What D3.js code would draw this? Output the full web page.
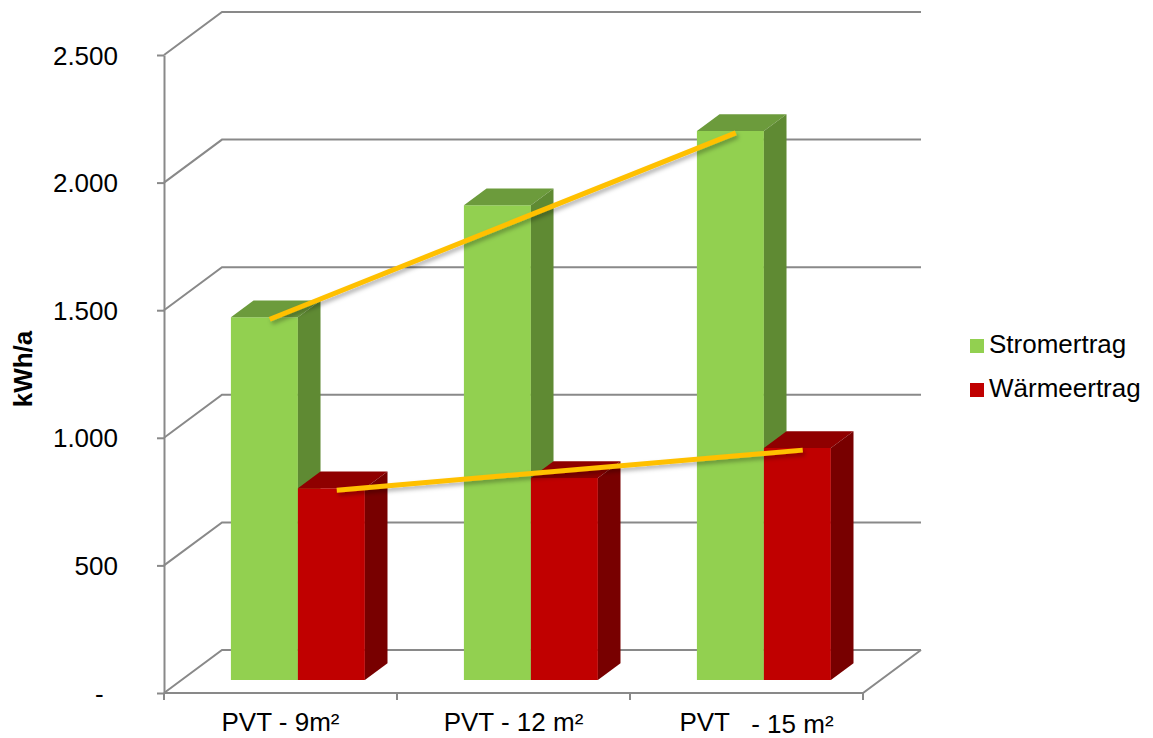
<!DOCTYPE html>
<html>
<head>
<meta charset="utf-8">
<script src="https://cdn.jsdelivr.net/npm/d3@7/dist/d3.min.js"></script>
<style>
  html, body { margin: 0; padding: 0; background: #ffffff; }
  svg { display: block; font-family: "Liberation Sans", Arial, sans-serif; }
</style>
</head>
<body>
<svg id="chart" width="1153" height="738"></svg>
<script>
// Jahreserträge der PVT-Anlage je Kollektorfläche
const categories = ["PVT - 9m²", "PVT - 12 m²", "PVT   - 15 m²"];
const seriesNames = ["Stromertrag", "Wärmeertrag"];
const stromertrag = [1422, 1861, 2152];
const waermeertrag = [752, 792, 909];
const yTickValues = [0, 500, 1000, 1500, 2000, 2500];
const axisTitle = "kWh/a";

const seriesValues = [stromertrag, waermeertrag];
const colors = {
  "Stromertrag": { front: "#92D050", top: "#6C9B3C", side: "#5F8A33" },
  "Wärmeertrag": { front: "#C00000", top: "#8F0000", side: "#780000" }
};
const gridColor = "#898989";
const trendColor = "#FFC000";

// Plot frame (front plane) and oblique depth offset
const plot = { left: 164, right: 863, top: 55, bottom: 693 };
const depth = { dx: 58, dy: -43 };
const barDepth = [0.30, 0.69];

const svg = d3.select("#chart");

const y = d3.scaleLinear().domain([0, 2500]).range([plot.bottom, plot.top]);
const x0 = d3.scaleBand().domain(categories).range([plot.left, plot.right])
  .paddingInner(0.425).paddingOuter(0.2125);
const x1 = d3.scaleBand().domain(seriesNames).range([0, x0.bandwidth()]);

// project a point (x on the front plane, value, depth fraction)
const proj = (x, v, d) => [x + d * depth.dx, y(v) + d * depth.dy];
const poly = pts => "M" + pts.map(p => p.join(",")).join("L") + "Z";

const de = d3.formatLocale({ decimal: ",", thousands: ".", grouping: [3], currency: ["", "€"] });
const fmtNum = de.format(",.0f");
const fmt = v => v === 0 ? "-\u00a0\u00a0" : fmtNum(v);

// Drop shadow for the trend lines
const defs = svg.append("defs");
const f = defs.append("filter").attr("id", "lineShadow")
  .attr("x", "-10%").attr("y", "-50%").attr("width", "120%").attr("height", "200%");
f.append("feDropShadow").attr("dx", 2).attr("dy", 3).attr("stdDeviation", 2)
  .attr("flood-color", "#000").attr("flood-opacity", 0.3);

// Walls: side-wall diagonals and back-wall gridlines
const walls = svg.append("g").attr("fill", "none").attr("stroke", gridColor).attr("stroke-width", 2);
yTickValues.forEach(v => {
  const a = proj(plot.left, v, 0), b = proj(plot.left, v, 1), c = proj(plot.right, v, 1);
  walls.append("path").attr("d", `M${a}L${b}L${c}`);
});
// Floor front edge and right edge
{
  const a = proj(plot.left, 0, 0), b = proj(plot.right, 0, 0), c = proj(plot.right, 0, 1);
  walls.append("path").attr("d", `M${a}L${b}L${c}`);
}

// Y axis
const yAxis = d3.axisLeft(y).tickValues(yTickValues).tickFormat(fmt)
  .tickSize(7).tickSizeOuter(0).tickPadding(39);
const gy = svg.append("g").attr("transform", `translate(${plot.left},0)`).call(yAxis);
gy.select(".domain").attr("stroke", gridColor).attr("stroke-width", 2);
gy.selectAll(".tick line").attr("stroke", gridColor).attr("stroke-width", 2);
gy.selectAll(".tick text").attr("font-size", 26).attr("fill", "#000")
  .attr("font-family", "Liberation Sans, Arial, sans-serif").attr("dy", "0.35em");

// Category ticks on the floor front edge
const boundaries = d3.range(categories.length + 1).map(i => plot.left + i * x0.step());
svg.append("g").selectAll("line").data(boundaries).join("line")
  .attr("x1", d => d).attr("x2", d => d)
  .attr("y1", plot.bottom).attr("y2", plot.bottom + 7)
  .attr("stroke", gridColor).attr("stroke-width", 2);

// Category labels
const catLabels = svg.append("g").attr("font-size", 26).attr("fill", "#000")
  .attr("text-anchor", "middle");
categories.forEach((c, i) => {
  const parts = c.split(/\s{3,}/);
  const t = catLabels.append("text")
    .attr("x", plot.left + (i + 0.5) * x0.step())
    .attr("y", 731)
    .style("white-space", "pre");
  if (parts.length > 1) {
    t.attr("dx", 10);
    t.append("tspan").text(parts[0] + "   ");
    t.append("tspan").attr("dy", 2).text(parts[1]);
  } else {
    t.text(c);
  }
});

// Axis title
svg.append("text")
  .attr("transform", `translate(32,369) rotate(-90)`)
  .attr("text-anchor", "middle")
  .attr("font-size", 26).attr("font-weight", "bold").attr("fill", "#000")
  .text(axisTitle);

// 3D columns, drawn left to right so nearer faces overlap correctly
const bars = svg.append("g");
categories.forEach((c, i) => {
  seriesNames.forEach((s, k) => {
    const v = seriesValues[k][i];
    const xl = x0(c) + x1(s), xr = xl + x1.bandwidth();
    const [d0, d1] = barDepth;
    const col = colors[s];
    const g = bars.append("g");
    g.append("path").attr("fill", col.front)
      .attr("d", poly([proj(xl, 0, d0), proj(xr, 0, d0), proj(xr, v, d0), proj(xl, v, d0)]));
    g.append("path").attr("fill", col.top)
      .attr("d", poly([proj(xl, v, d0), proj(xr, v, d0), proj(xr, v, d1), proj(xl, v, d1)]));
    g.append("path").attr("fill", col.side)
      .attr("d", poly([proj(xr, 0, d0), proj(xr, 0, d1), proj(xr, v, d1), proj(xr, v, d0)]));
  });
});

// Trend lines from the first to the last column of each series
const trend = svg.append("g").attr("filter", "url(#lineShadow)");
seriesNames.forEach((s, k) => {
  const vals = seriesValues[k];
  const n = vals.length - 1;
  const pt = i => {
    const xc = x0(categories[i]) + x1(s) + x1.bandwidth() * 0.58;
    const p = proj(xc, vals[i], barDepth[0]);
    return [p[0], p[1] + 2];
  };
  trend.append("line")
    .attr("x1", pt(0)[0]).attr("y1", pt(0)[1])
    .attr("x2", pt(n)[0]).attr("y2", pt(n)[1])
    .attr("stroke", trendColor).attr("stroke-width", 5);
});

// Legend
const legend = svg.append("g").attr("font-size", 26).attr("fill", "#000");
seriesNames.forEach((s, k) => {
  const yy = 339 + k * 44;
  legend.append("rect").attr("x", 970).attr("y", yy).attr("width", 14).attr("height", 14)
    .attr("fill", colors[s].front);
  legend.append("text").attr("x", 989).attr("y", yy + 14).text(s);
});
</script>
</body>
</html>
